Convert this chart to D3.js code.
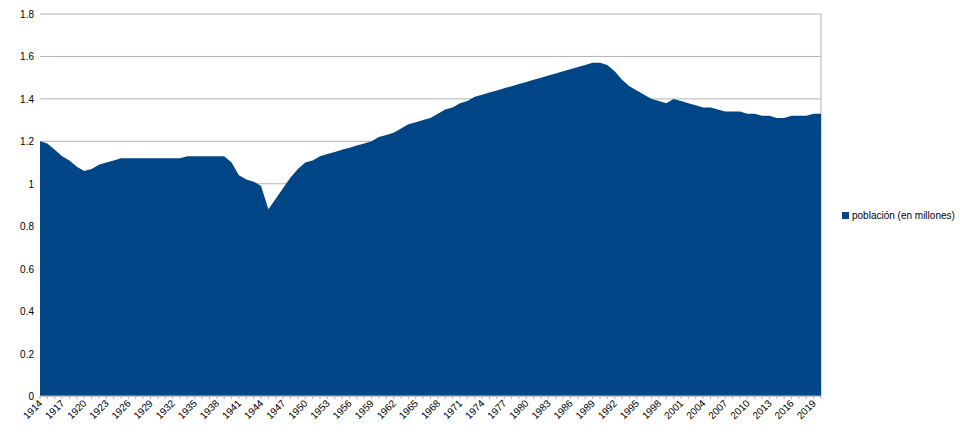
<!DOCTYPE html><html><head><meta charset="utf-8"><script src="https://cdn.jsdelivr.net/npm/d3@7"></script>
<style>body{margin:0;background:#fff}</style></head><body><svg id="c" width="960" height="435"></svg><script>
const years=d3.range(1914,2021);
const values=[1.20,1.19,1.16,1.13,1.11,1.08,1.06,1.07,1.09,1.10,1.11,1.12,1.12,1.12,1.12,1.12,1.12,1.12,1.12,1.12,1.13,1.13,1.13,1.13,1.13,1.13,1.10,1.04,1.02,1.01,0.99,0.88,0.93,0.98,1.03,1.07,1.10,1.11,1.13,1.14,1.15,1.16,1.17,1.18,1.19,1.20,1.22,1.23,1.24,1.26,1.28,1.29,1.30,1.31,1.33,1.35,1.36,1.38,1.39,1.41,1.42,1.43,1.44,1.45,1.46,1.47,1.48,1.49,1.50,1.51,1.52,1.53,1.54,1.55,1.56,1.57,1.57,1.56,1.53,1.49,1.46,1.44,1.42,1.40,1.39,1.38,1.40,1.39,1.38,1.37,1.36,1.36,1.35,1.34,1.34,1.34,1.33,1.33,1.32,1.32,1.31,1.31,1.32,1.32,1.32,1.33,1.33];
const yTicks=[0,0.2,0.4,0.6,0.8,1,1.2,1.4,1.6,1.8];
const seriesName="población (en millones)";
const svg=d3.select("#c"),L=40,R=821,T=14,B=396;
const x=d3.scaleLinear().domain([1914,2020]).range([L,R]);
const y=d3.scaleLinear().domain([0,1.8]).range([B,T]);
svg.append("g").selectAll("line").data(yTicks).join("line").attr("x1",L).attr("x2",R)
 .attr("y1",d=>y(d)).attr("y2",d=>y(d)).attr("stroke","#b3b3b3");
svg.append("line").attr("x1",R).attr("x2",R).attr("y1",T).attr("y2",B).attr("stroke","#b3b3b3");
svg.append("path").datum(years.map((yr,i)=>[yr,values[i]])).attr("fill","#004586")
 .attr("d",d3.area().x(d=>x(d[0])).y0(B).y1(d=>y(d[1])));
svg.append("g").selectAll("text").data(yTicks).join("text").attr("x",L-6).attr("y",d=>y(d)+4)
 .attr("text-anchor","end").attr("font-family","Liberation Sans, Arial").attr("font-size",10).attr("fill","#000").text(d=>d);
svg.append("g").selectAll("line").data(years).join("line").attr("x1",d=>x(d)).attr("x2",d=>x(d))
 .attr("y1",B).attr("y2",B+3).attr("stroke","#b3b3b3");
svg.append("line").attr("x1",L).attr("x2",R).attr("y1",B).attr("y2",B).attr("stroke","#b3b3b3");
svg.append("g").selectAll("text").data(years.filter(d=>(d-1914)%3===0)).join("text")
 .attr("transform",d=>`translate(${x(d)+3},${B+8}) rotate(-45)`).attr("text-anchor","end")
 .attr("font-family","Liberation Sans, Arial").attr("font-size",10).text(d=>d);
svg.append("rect").attr("x",842).attr("y",212).attr("width",7).attr("height",7).attr("fill","#004586");
svg.append("text").attr("x",852).attr("y",219).attr("font-family","Liberation Sans, Arial").attr("font-size",10).text(seriesName);
</script></body></html>
